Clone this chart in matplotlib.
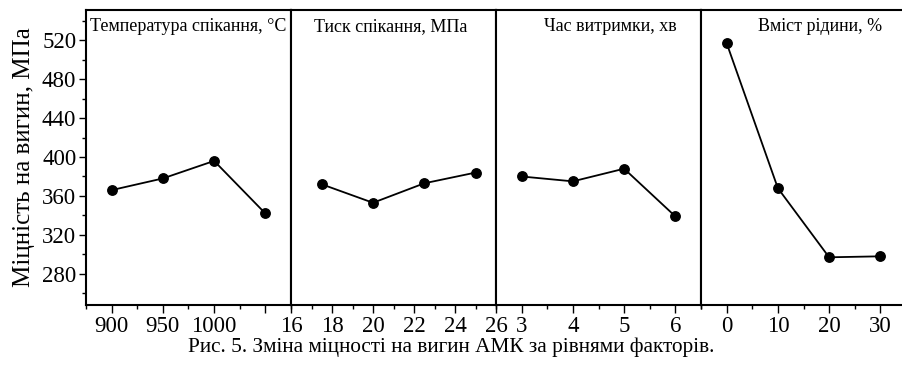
import matplotlib
matplotlib.use("Agg")
import matplotlib.pyplot as plt
from matplotlib.ticker import FixedLocator, FixedFormatter, MultipleLocator

plt.rcParams['font.family'] = ['Liberation Serif', 'DejaVu Serif']

# Data
titles = ["Температура спікання, °С", "Тиск спікання, МПа", "Час витримки, хв", "Вміст рідини, %"]
x_temp = [900, 950, 1000, 1050]
y_temp = [366, 378, 396, 342]
x_press = [17.5, 20, 22.5, 25]
y_press = [372, 353, 373, 384]
x_time = [3, 4, 5, 6]
y_time = [380, 375, 388, 339]
x_liq = [0, 10, 20, 30]
y_liq = [517, 368, 297, 298]

xs = [x_temp, x_press, x_time, x_liq]
ys = [y_temp, y_press, y_time, y_liq]
xlims = [(875, 1075), (16, 26), (2.5, 6.5), (-5, 35)]
major_ticks = [[900, 950, 1000, 1050], [16, 18, 20, 22, 24, 26], [3, 4, 5, 6], [0, 10, 20, 30]]
tick_labels = [["900", "950", "1000", ""], ["16", "18", "20", "22", "24", "26"],
               ["3", "4", "5", "6"], ["0", "10", "20", "30"]]
minor_steps = [25, 1, 0.5, 5]
title_x = [0.5, 0.488, 0.556, 0.58]

ylabel = "Міцність на вигин, МПа"
caption = "Рис. 5. Зміна міцності на вигин АМК за рівнями факторів."

fig = plt.figure(figsize=(9.02, 3.65), dpi=100)
left = 86 / 902
w = 205 / 902
bottom = 1 - 305 / 365
h = 295 / 365

for i in range(4):
    ax = fig.add_axes([left + i * w, bottom, w, h])
    ax.plot(xs[i], ys[i], color='black', lw=1.3, marker='o', ms=6.8, zorder=3, clip_on=False)
    ax.set_xlim(*xlims[i])
    ax.set_ylim(248, 551)
    ax.xaxis.set_major_locator(FixedLocator(major_ticks[i]))
    ax.xaxis.set_major_formatter(FixedFormatter(tick_labels[i]))
    ax.xaxis.set_minor_locator(MultipleLocator(minor_steps[i]))
    for s in ax.spines.values():
        s.set_linewidth(1.5)
    ax.tick_params(axis='x', which='major', direction='out', length=6, width=1.0,
                   labelsize=16.5, pad=2)
    ax.tick_params(axis='x', which='minor', direction='out', length=3, width=1.0)
    if i == 0:
        ax.set_yticks([280, 320, 360, 400, 440, 480, 520])
        ax.yaxis.set_minor_locator(MultipleLocator(20))
        ax.tick_params(axis='y', which='major', direction='out', length=5, width=1.0,
                       labelsize=16.5, pad=2)
        ax.tick_params(axis='y', which='minor', direction='out', length=3, width=1.0)
        ax.set_ylabel(ylabel, fontsize=18, labelpad=5)
    else:
        ax.tick_params(axis='y', which='both', left=False, labelleft=False)
    ax.text(title_x[i], 0.945, titles[i], transform=ax.transAxes, ha='center', va='center',
            fontsize=13)

fig.text(0.5, 1 - 347 / 365, caption, ha='center', va='center', fontsize=15.3)

fig.savefig("out.png", dpi=100)
